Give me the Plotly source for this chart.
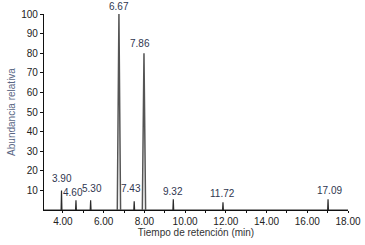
import plotly.graph_objects as go

# Peak data (positions as drawn, labels as printed)
peak_times = [3.93, 4.64, 5.36, 6.75, 7.50, 7.98, 9.42, 11.86, 17.02]
peak_heights = [10, 5, 5, 100, 4.5, 80, 5.5, 4, 5.5]
peak_labels = ["3.90", "4.60", "5.30", "6.67", "7.43", "7.86", "9.32", "11.72", "17.09"]
x_tick_vals = [4, 6, 8, 10, 12, 14, 16, 18]
x_tick_text = ["4.00", "6.00", "8.00", "10.00", "12.00", "14.00", "16.00", "18.00"]
y_tick_vals = [10, 20, 30, 40, 50, 60, 70, 80, 90, 100]

# Small peaks on a zero baseline, drawn as narrow triangles
xs, ys = [3.07], [0]
bx, by = [], []
for t, h in zip(peak_times, peak_heights):
    if h > 50:
        bx += [t - 0.08, t, t + 0.08, None]
        by += [0, h, 0, None]
    else:
        xs += [t - 0.02, t, t + 0.02]
        ys += [0, h, 0]
xs.append(18.0)
ys.append(0)

fig = go.Figure()
fig.add_trace(go.Scatter(x=xs, y=ys, mode="lines",
                         line=dict(color="#2b2b2b", width=1.2),
                         hoverinfo="skip", showlegend=False))
fig.add_trace(go.Scatter(x=bx, y=by, mode="lines",
                         line=dict(color="#555555", width=1.5),
                         hoverinfo="skip", showlegend=False))

shifts = {"3.90": (0, 4), "4.60": (-3, 0), "5.30": (1, 4), "7.43": (-3, 5),
          "6.67": (0, 0), "7.86": (-4, 2), "9.32": (0, 0), "11.72": (0, 1), "17.09": (1, 1)}
for t, h, lab in zip(peak_times, peak_heights, peak_labels):
    xs_, ys_ = shifts.get(lab, (0, 1))
    fig.add_annotation(x=t, y=h, text=lab, showarrow=False,
                       yanchor="bottom", xanchor="center",
                       xshift=xs_, yshift=ys_,
                       font=dict(family="Liberation Sans, Arial", size=10, color="#2f3650"))

fig.update_layout(
    width=365, height=245,
    margin=dict(l=44, r=17, t=14, b=35),
    paper_bgcolor="white", plot_bgcolor="white",
    font=dict(family="Liberation Sans, Arial", size=10, color="#222"),
    xaxis=dict(range=[3.07, 18.0], tickvals=x_tick_vals, ticktext=x_tick_text,
               automargin=False,
               showgrid=False, zeroline=False, showline=True, linecolor="#111", linewidth=1.3,
               ticks="outside", ticklen=2, tickcolor="#111",
               minor=dict(dtick=1, ticks="outside", ticklen=2, tickcolor="#111"),
               title=dict(text="Tiempo de retención (min)", standoff=1,
                          font=dict(size=10, color="#333")),
               tickfont=dict(size=10, color="#222")),
    yaxis=dict(range=[0, 100], tickvals=y_tick_vals,
               automargin=False,
               showgrid=False, zeroline=False, showline=True, linecolor="#111", linewidth=1.3,
               ticks="outside", ticklen=3, tickcolor="#111",
               title=dict(text="Abundancia relativa", standoff=3,
                          font=dict(size=10, color="#5a6785")),
               tickfont=dict(size=10, color="#222")),
)

fig.write_html("out.html", config={"displayModeBar": False},
               post_script="document.body.style.margin='0';")
